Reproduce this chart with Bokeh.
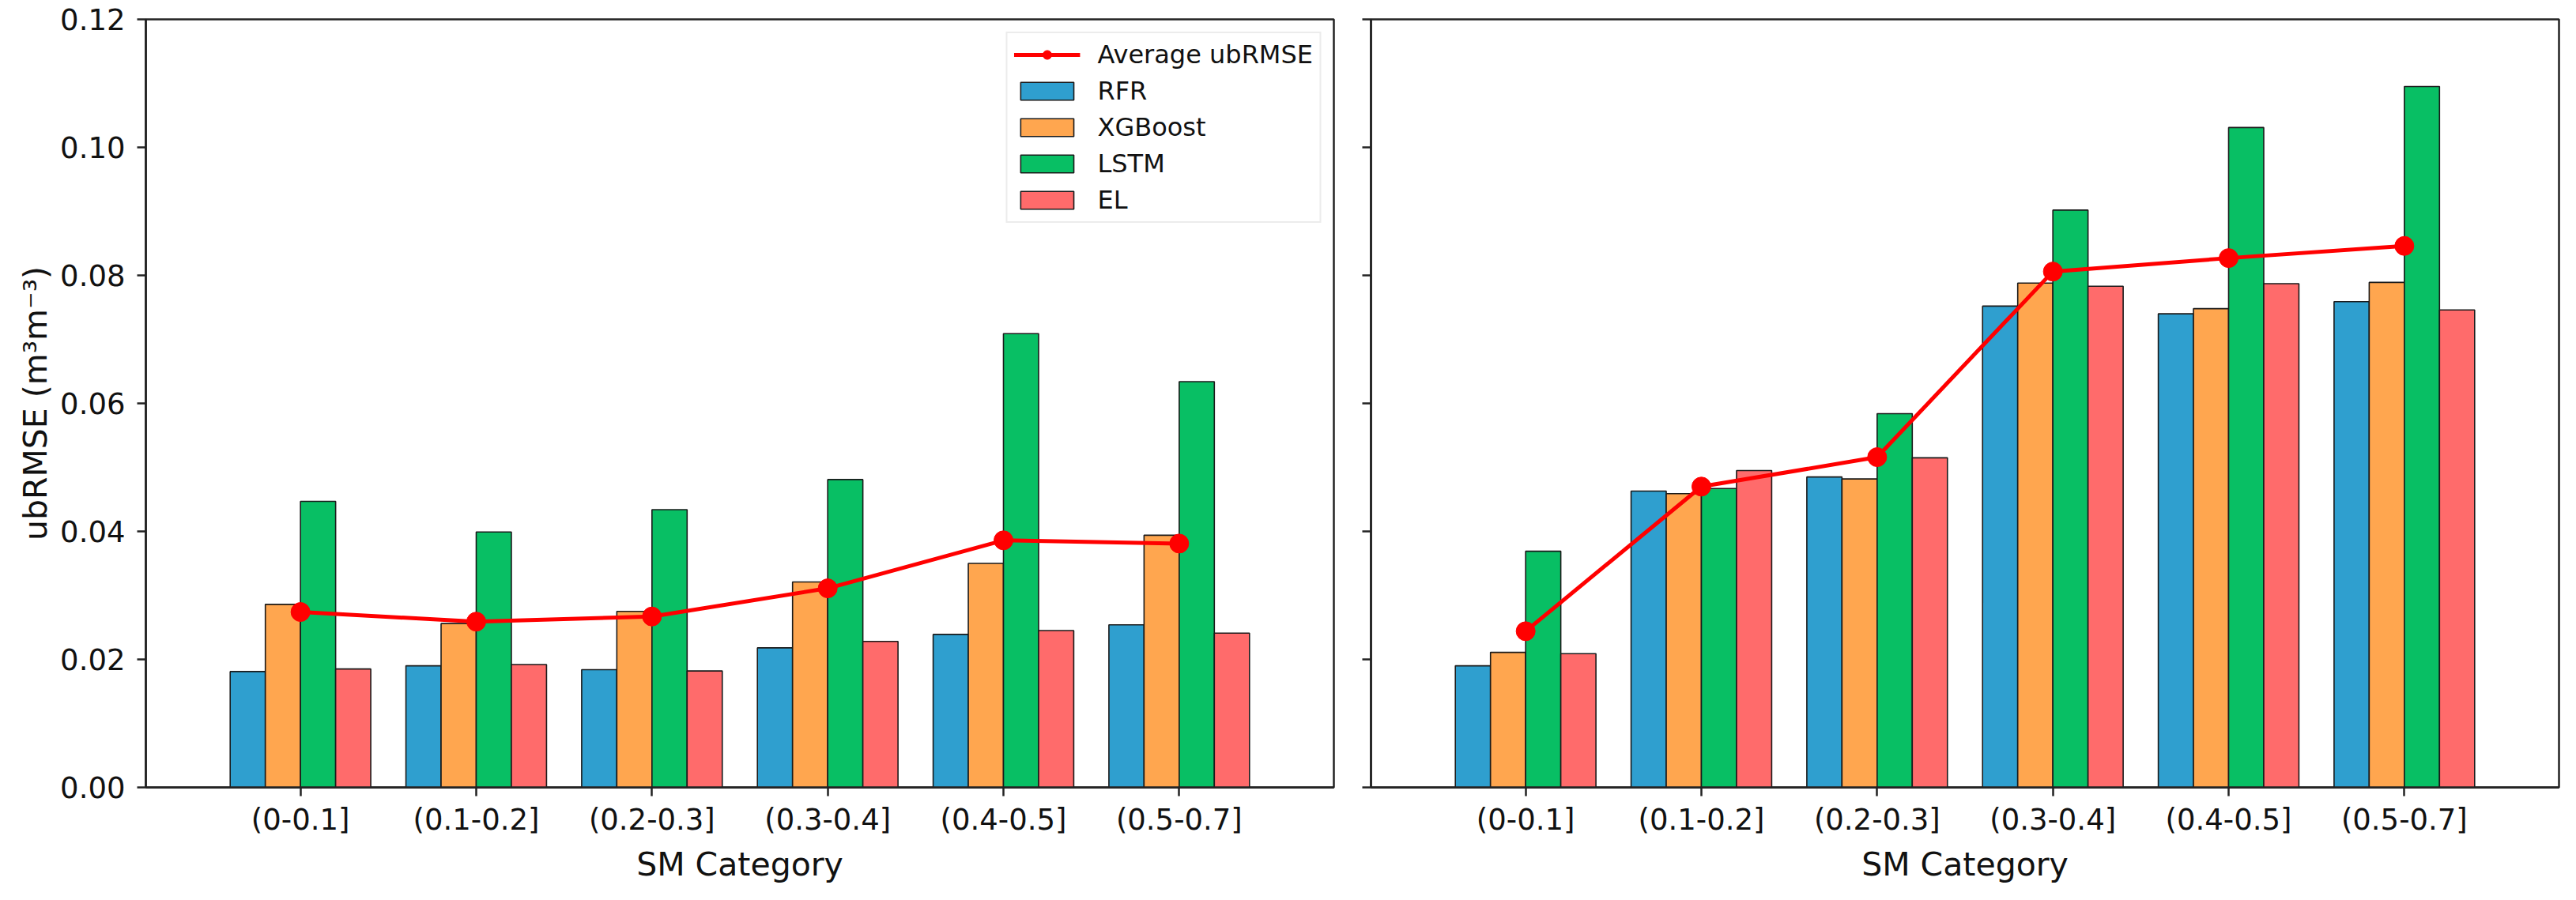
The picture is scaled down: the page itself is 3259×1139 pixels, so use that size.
from bokeh.plotting import figure
from bokeh.models import (FactorRange, Range1d, ColumnDataSource, Legend, LegendItem,
                          SingleIntervalTicker, NumeralTickFormatter, CustomLabelingPolicy)
from bokeh.transform import dodge
from bokeh.layouts import row
from bokeh.embed import file_html
from bokeh.resources import INLINE

categories = ["(0-0.1]", "(0.1-0.2]", "(0.2-0.3]", "(0.3-0.4]", "(0.4-0.5]", "(0.5-0.7]"]
models = ["RFR", "XGBoost", "LSTM", "EL"]

# Left panel
left_rfr = [0.0181, 0.0190, 0.0184, 0.0218, 0.0239, 0.0254]
left_xgb = [0.0286, 0.0256, 0.0275, 0.0321, 0.0350, 0.0394]
left_lstm = [0.0447, 0.0399, 0.0434, 0.0481, 0.0709, 0.0634]
left_el = [0.0185, 0.0192, 0.0182, 0.0228, 0.0245, 0.0241]
left_avg = [0.0274, 0.0259, 0.0267, 0.0311, 0.0386, 0.0381]

# Right panel
right_rfr = [0.0190, 0.0463, 0.0485, 0.0752, 0.0740, 0.0759]
right_xgb = [0.0211, 0.0459, 0.0482, 0.0788, 0.0748, 0.0789]
right_lstm = [0.0369, 0.0467, 0.0584, 0.0902, 0.1031, 0.1095]
right_el = [0.0209, 0.0495, 0.0515, 0.0783, 0.0787, 0.0746]
right_avg = [0.0244, 0.0470, 0.0516, 0.0806, 0.0827, 0.0846]

colors = ["#2F9FCF", "#FFA64F", "#08BF64", "#FF6B6B"]
offsets = [-0.3, -0.1, 0.1, 0.3]
FONT = "DejaVu Sans"
AX = "#222222"


def make_panel(rfr, xgb, lstm, el, avg, is_left):
    src = ColumnDataSource(dict(cat=categories, RFR=rfr, XGBoost=xgb, LSTM=lstm, EL=el, avg=avg))
    xr = FactorRange(factors=categories, range_padding=0.38, range_padding_units="absolute")
    p = figure(x_range=xr, y_range=Range1d(0, 0.12), output_backend="svg", toolbar_location=None,
               frame_width=1503, frame_height=972,
               min_border_left=184 if is_left else 37, min_border_right=10 if is_left else 6,
               min_border_top=24, min_border_bottom=10)
    bars = []
    for m, c, off in zip(models, colors, offsets):
        r = p.vbar(x=dodge("cat", off, range=p.x_range), top=m, width=0.2, source=src,
                   fill_color=c, line_color="#1a1a1a", line_width=1.6)
        bars.append(r)
    ln = p.line(x="cat", y="avg", source=src, line_color="#FF0000", line_width=5)
    sc = p.scatter(x="cat", y="avg", source=src, size=24, fill_color="#FF0000", line_color="#FF0000")

    p.xgrid.visible = False
    p.ygrid.visible = False
    p.outline_line_color = AX
    p.outline_line_width = 2.5
    p.outline_line_alpha = 1.0
    p.background_fill_color = "white"
    p.border_fill_color = "white"

    for ax in (p.xaxis[0], p.yaxis[0]):
        ax.axis_line_color = AX
        ax.axis_line_width = 2.5
        ax.major_tick_line_color = AX
        ax.major_tick_line_width = 2.5
        ax.major_tick_out = 11
        ax.major_tick_in = 0
        ax.minor_tick_out = 0
        ax.minor_tick_in = 0
        ax.major_label_text_font = FONT
        ax.major_label_text_font_size = "37px"
        ax.major_label_text_color = "#111111"
        ax.axis_label_text_font = FONT
        ax.axis_label_text_font_size = "41px"
        ax.axis_label_text_font_style = "normal"
        ax.axis_label_text_color = "#111111"

    p.yaxis[0].ticker = SingleIntervalTicker(interval=0.02, num_minor_ticks=0)
    p.yaxis[0].formatter = NumeralTickFormatter(format="0.00")
    p.yaxis[0].major_label_standoff = 15
    p.xaxis[0].major_label_standoff = 8
    p.xaxis[0].axis_label = "SM Category"
    p.xaxis[0].axis_label_standoff = 8

    if is_left:
        p.yaxis[0].axis_label = "ubRMSE (m³m⁻³)"
        p.yaxis[0].axis_label_standoff = 4
        items = [LegendItem(label="Average ubRMSE", renderers=[ln, sc])]
        for m, r in zip(models, bars):
            items.append(LegendItem(label=m, renderers=[r]))
        leg = Legend(items=items, location="top_right", margin=16, padding=8, spacing=8,
                     glyph_width=84, glyph_height=28, label_standoff=22,
                     label_text_font=FONT, label_text_font_size="32px", label_text_color="#111111",
                     border_line_color="#d9d9d9", border_line_width=2, background_fill_color="white",
                     background_fill_alpha=0.9)
        p.add_layout(leg)
    else:
        # shared y axis: ticks only, no tick labels
        p.yaxis[0].major_label_policy = CustomLabelingPolicy(
            code="for (const i of Array.from(indices)) { indices.unset(i) }\nreturn indices")
        p.yaxis[0].major_label_text_font_size = "0px"
        p.yaxis[0].major_label_standoff = 0
    return p


p1 = make_panel(left_rfr, left_xgb, left_lstm, left_el, left_avg, True)
p2 = make_panel(right_rfr, right_xgb, right_lstm, right_el, right_avg, False)
layout = row(p1, p2)

open("out.html", "w").write(file_html(layout, INLINE))
